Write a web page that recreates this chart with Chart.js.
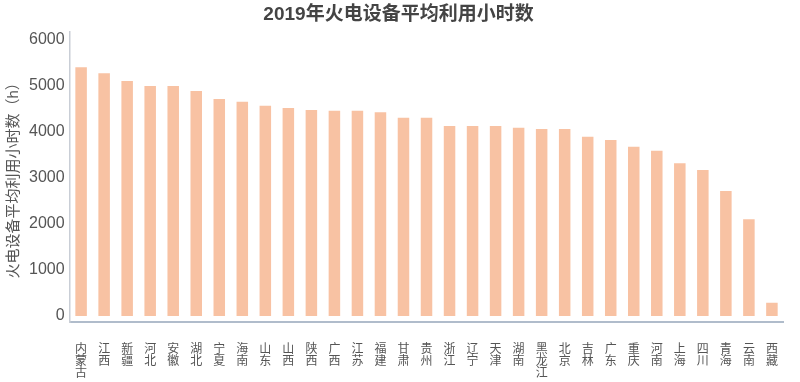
<!DOCTYPE html>
<html>
<head>
<meta charset="utf-8">
<script src="https://cdn.jsdelivr.net/npm/chart.js@4"></script>
<style>
html,body{margin:0;padding:0;background:#fff;}
#wrap{width:800px;height:382px;}
</style>
</head>
<body>
<div id="wrap"><canvas id="c" width="800" height="382"></canvas></div>
<script>
const provinces = ["内蒙古","江西","新疆","河北","安徽","湖北","宁夏","海南","山东","山西","陕西","广西","江苏","福建","甘肃","贵州","浙江","辽宁","天津","湖南","黑龙江","北京","吉林","广东","重庆","河南","上海","四川","青海","云南","西藏"];
const hours = [5407,5276,5109,5000,5000,4891,4717,4659,4572,4522,4478,4463,4463,4428,4311,4311,4130,4130,4130,4093,4065,4065,3898,3826,3680,3593,3320,3174,2717,2102,289];
const yTicks = [0,1000,2000,3000,4000,5000,6000];
const chartTitle = "2019年火电设备平均利用小时数";
const yTitle = "火电设备平均利用小时数（h）";

const FONT = "'Liberation Sans', 'Noto Sans CJK SC', sans-serif";
const labels = provinces.map(p => p.split(""));

new Chart(document.getElementById('c'), {
  type: 'bar',
  data: {
    labels: labels,
    datasets: [{
      data: hours,
      backgroundColor: '#f8c2a3',
      borderWidth: 0,
      categoryPercentage: 1,
      barPercentage: 0.5
    }]
  },
  options: {
    responsive: false,
    animation: false,
    layout: { padding: { left: 2, right: 5, top: 0, bottom: -20 } },
    plugins: {
      legend: { display: false },
      tooltip: { enabled: false },
      title: {
        display: true,
        text: chartTitle,
        color: '#444',
        font: { family: FONT, size: 19, weight: 'bold' },
        padding: { top: 3, bottom: 6 }
      }
    },
    scales: {
      x: {
        grid: { display: false, drawTicks: false },
        border: { display: true, color: '#b0bccb', width: 2 },
        ticks: {
          color: '#555',
          font: { family: FONT, size: 12, lineHeight: 1 },
          padding: 22,
          maxRotation: 0,
          minRotation: 0,
          autoSkip: false
        }
      },
      y: {
        min: -130,
        max: 6178,
        afterBuildTicks: (axis) => { axis.ticks = yTicks.map(v => ({ value: v })); },
        grid: { display: false, drawTicks: false },
        border: { display: true, color: '#c9ced6', width: 1.5 },
        ticks: {
          color: '#555',
          font: { family: FONT, size: 16 },
          padding: 5,
          callback: (v) => String(v)
        },
        title: {
          display: true,
          text: yTitle,
          color: '#555',
          font: { family: FONT, size: 15 },
          padding: { top: 3, bottom: 1 }
        }
      }
    }
  }
});
</script>
</body>
</html>
